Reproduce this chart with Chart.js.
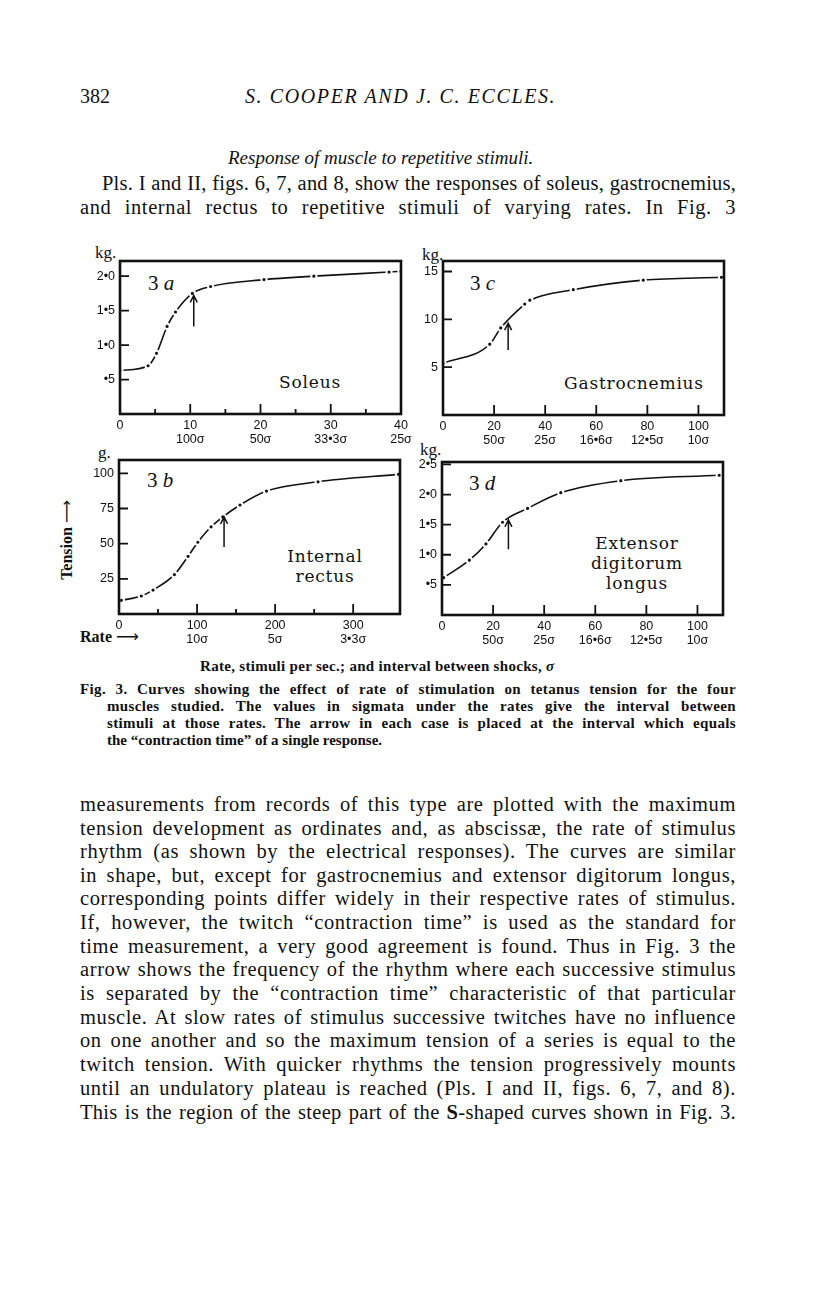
<!DOCTYPE html>
<html>
<head>
<meta charset="utf-8">
<script src="https://cdn.jsdelivr.net/npm/chart.js@4.4.0/dist/chart.umd.min.js"></script>
<style>
  html, body { margin: 0; padding: 0; background: #fff; }
  body { width: 816px; height: 1296px; position: relative; overflow: hidden; font-family: "Liberation Serif", serif; color: #111; }
  .t { position: absolute; white-space: nowrap; line-height: 22px; }
  .j { position: absolute; width: 656px; left: 80px; font-size: 20.5px; letter-spacing: 0.6px; line-height: 22px; text-align: justify; text-align-last: justify; }
  .cap { position: absolute; font-size: 15px; letter-spacing: 0.35px; font-weight: bold; line-height: 17px; text-align: justify; text-align-last: justify; }
  .nm { position: absolute; font-family: "DejaVu Serif", serif; font-size: 17px; letter-spacing: 0.8px; line-height: 20px; text-align: center; }
  .pl { position: absolute; font-size: 21px; line-height: 22px; }
  .u { position: absolute; font-size: 17px; line-height: 18px; }
  canvas { position: absolute; }
</style>
</head>
<body>

<div class="t" style="left:80px; top:85px; font-size:20px;">382</div>
<div class="t" style="left:245px; top:85px; font-size:20px; font-style:italic; letter-spacing:1.6px;">S. COOPER AND J. C. ECCLES.</div>
<div class="t" style="left:228px; top:147px; font-size:19px; font-style:italic;">Response of muscle to repetitive stimuli.</div>
<div class="j" style="left:102px; width:634px; top:172px; letter-spacing:0.2px;">Pls. I and II, figs. 6, 7, and 8, show the responses of soleus, gastrocnemius,</div>
<div class="j" style="top:196px;">and internal rectus to repetitive stimuli of varying rates. In Fig. 3</div>

<div class="u" style="left:95px; top:244px;">kg.</div>
<div class="u" style="left:422px; top:246px;">kg.</div>
<div class="u" style="left:98px; top:444px;">g.</div>
<div class="u" style="left:420px; top:441px;">kg.</div>

<div class="pl" style="left:148px; top:272px;">3 <i>a</i></div>
<div class="pl" style="left:470px; top:272px;">3 <i>c</i></div>
<div class="pl" style="left:147px; top:469px;">3 <i>b</i></div>
<div class="pl" style="left:469px; top:472px;">3 <i>d</i></div>

<div class="nm" style="left:260px; width:100px; top:372px;">Soleus</div>
<div class="nm" style="left:554px; width:160px; top:373px;">Gastrocnemius</div>
<div class="nm" style="left:270px; width:110px; top:546px;">Internal<br>rectus</div>
<div class="nm" style="left:577px; width:120px; top:533px;">Extensor<br>digitorum<br>longus</div>

<div class="t" style="left:67px; top:540px; font-size:16px; font-weight:bold; transform:translate(-50%,-50%) rotate(-90deg);">Tension <span style="font-family:'DejaVu Sans'; font-weight:normal;">⟶</span></div>
<div class="t" style="left:80px; top:626px; font-size:16px; font-weight:bold;">Rate <span style="font-family:'DejaVu Sans'; font-weight:normal;">⟶</span></div>

<div class="t" style="left:200px; top:655px; font-size:15px; letter-spacing:0.3px; font-weight:bold;">Rate, stimuli per sec.; and interval between shocks, <i>σ</i></div>
<div class="cap" style="left:80px; width:656px; top:681px;">Fig. 3. Curves showing the effect of rate of stimulation on tetanus tension for the four</div>
<div class="cap" style="left:107px; width:629px; top:698px;">muscles studied. The values in sigmata under the rates give the interval between</div>
<div class="cap" style="left:107px; width:629px; top:715px;">stimuli at those rates. The arrow in each case is placed at the interval which equals</div>
<div class="cap" style="left:107px; top:732px; letter-spacing:0; text-align:left; text-align-last:left;">the “contraction time” of a single response.</div>

<div class="j" style="top:793px;">measurements from records of this type are plotted with the maximum</div>
<div class="j" style="top:817px;">tension development as ordinates and, as abscissæ, the rate of stimulus</div>
<div class="j" style="top:840px;">rhythm (as shown by the electrical responses). The curves are similar</div>
<div class="j" style="top:864px;">in shape, but, except for gastrocnemius and extensor digitorum longus,</div>
<div class="j" style="top:887px;">corresponding points differ widely in their respective rates of stimulus.</div>
<div class="j" style="top:911px;">If, however, the twitch “contraction time” is used as the standard for</div>
<div class="j" style="top:935px;">time measurement, a very good agreement is found. Thus in Fig. 3 the</div>
<div class="j" style="top:958px;">arrow shows the frequency of the rhythm where each successive stimulus</div>
<div class="j" style="top:982px;">is separated by the “contraction time” characteristic of that particular</div>
<div class="j" style="top:1006px;">muscle. At slow rates of stimulus successive twitches have no influence</div>
<div class="j" style="top:1029px;">on one another and so the maximum tension of a series is equal to the</div>
<div class="j" style="top:1053px;">twitch tension. With quicker rhythms the tension progressively mounts</div>
<div class="j" style="top:1077px;">until an undulatory plateau is reached (Pls. I and II, figs. 6, 7, and 8).</div>
<div class="j" style="top:1101px; letter-spacing:0.3px;">This is the region of the steep part of the <b>S</b>-shaped curves shown in Fig. 3.</div>

<canvas id="c3a" width="345" height="210" style="left:75px; top:250px;"></canvas>
<canvas id="c3c" width="340" height="210" style="left:400px; top:250px;"></canvas>
<canvas id="c3b" width="345" height="210" style="left:75px; top:448px;"></canvas>
<canvas id="c3d" width="340" height="210" style="left:400px; top:450px;"></canvas>

<script>
// 3a soleus
const soleusRate = [0, 4, 5.2, 6.7, 7.9, 10.3, 12.9, 20.5, 27.6, 38.3, 40];
const soleusTension = [0.63, 0.70, 0.88, 1.27, 1.48, 1.75, 1.85, 1.95, 2.00, 2.06, 2.07];
const soleusArrow = [10.5, 1.27, 1.72];
const soleusXTicks = [0, 10, 20, 30, 40];
const soleusXLabels = ['0', ['10', '100σ'], ['20', '50σ'], ['30', '33•3σ'], ['40', '25σ']];
const soleusMinor = [5, 15, 25, 35];
const soleusYTicks = [0.5, 1, 1.5, 2];
const soleusYLabels = ['•5', '1•0', '1•5', '2•0'];

// 3c gastrocnemius
const gastroRate = [0, 18.3, 22.6, 32, 34, 51, 78.4, 109];
const gastroTension = [5.4, 7.4, 9.1, 11.6, 12.0, 13.1, 14.1, 14.4];
const gastroArrow = [25.5, 6.8, 9.6];

// 3b internal rectus
const rectusRate = [3, 28.6, 43.6, 71, 88.5, 101, 118, 133, 155, 189, 255, 358];
const rectusTension = [9.7, 12.8, 17, 28, 41, 51, 62, 69, 77.5, 87.4, 94, 99.3];
const rectusArrow = [134.6, 47.6, 69];
const rectusXTicks = [0, 100, 200, 300];
const rectusXLabels = ['0', ['100', '10σ'], ['200', '5σ'], ['300', '3•3σ']];
const rectusMinor = [50, 150, 250];
const rectusYTicks = [25, 50, 75, 100];
const rectusYLabels = ['25', '50', '75', '100'];

// 3d extensor digitorum longus
const extRate = [0.65, 10.7, 17.2, 23.7, 33.5, 46.5, 70, 108.5];
const extTension = [0.62, 0.91, 1.18, 1.54, 1.77, 2.03, 2.23, 2.32];
const extArrow = [26, 1.09, 1.58];
const extYTicks = [0.5, 1, 1.5, 2, 2.5];
const extYLabels = ['•5', '1•0', '1•5', '2•0', '2•5'];

// shared by 3c and 3d
const fastXTicks = [0, 20, 40, 60, 80, 100];
const fastXLabels = ['0', ['20', '50σ'], ['40', '25σ'], ['60', '16•6σ'], ['80', '12•5σ'], ['100', '10σ']];
const gastroYTicks = [5, 10, 15];
const gastroYLabels = ['5', '10', '15'];

Chart.defaults.font.family = '"Liberation Sans", sans-serif';
Chart.defaults.color = '#111';

const framePlugin = {
  id: 'frame',
  afterDatasetsDraw(chart, args, o) {
    const ctx = chart.ctx, a = chart.chartArea, x = chart.scales.x, y = chart.scales.y;
    ctx.save();
    ctx.strokeStyle = '#111';
    ctx.lineWidth = 1.8;
    ctx.beginPath();
    o.major.forEach(v => { const p = x.getPixelForValue(v); ctx.moveTo(p, a.bottom); ctx.lineTo(p, a.bottom - 10); });
    o.minor.forEach(v => { const p = x.getPixelForValue(v); ctx.moveTo(p, a.bottom); ctx.lineTo(p, a.bottom - 5); });
    o.yTicks.forEach(v => { const p = y.getPixelForValue(v); ctx.moveTo(a.left, p); ctx.lineTo(a.left + 9, p); });
    ctx.stroke();
    ctx.lineWidth = 2.6;
    ctx.strokeRect(a.left, a.top, a.right - a.left, a.bottom - a.top);
    // arrow at the contraction time
    const ax = x.getPixelForValue(o.arrow[0]);
    const y0 = y.getPixelForValue(o.arrow[1]), y1 = y.getPixelForValue(o.arrow[2]);
    ctx.lineWidth = 1.5;
    ctx.beginPath();
    ctx.moveTo(ax, y0); ctx.lineTo(ax, y1);
    ctx.moveTo(ax - 3.5, y1 + 7); ctx.lineTo(ax, y1); ctx.lineTo(ax + 3.5, y1 + 7);
    ctx.stroke();
    ctx.restore();
  }
};

function panel(id, p) {
  new Chart(document.getElementById(id), {
    type: 'line',
    data: {
      datasets: [{
        data: p.rate.map((r, i) => ({ x: r, y: p.tension[i] })),
        borderColor: '#111',
        borderWidth: 1.6,
        pointRadius: 2.6,
        pointBorderWidth: 2,
        pointBackgroundColor: '#111',
        pointBorderColor: '#fff',
        cubicInterpolationMode: 'monotone',
        fill: false
      }]
    },
    options: {
      responsive: false,
      animation: false,
      events: [],
      layout: { padding: { top: p.pad[0], right: p.pad[1], bottom: 0, left: 0 } },
      plugins: {
        legend: { display: false },
        tooltip: { enabled: false },
        frame: { major: p.major, minor: p.minor, yTicks: p.yTicks, arrow: p.arrow }
      },
      scales: {
        x: {
          type: 'linear', min: 0, max: p.xMax,
          grid: { display: false, drawTicks: false }, border: { display: false },
          afterBuildTicks: s => { s.ticks = p.xTicks.map(v => ({ value: v })); },
          afterFit: s => { s.height = p.xH; s.paddingLeft = 0; s.paddingRight = 0; },
          ticks: { autoSkip: false, maxRotation: 0, padding: 4, font: { size: 12.5, lineHeight: 1.15 }, callback: (v, i) => p.xLabels[i] }
        },
        y: {
          type: 'linear', min: 0, max: p.yMax,
          grid: { display: false, drawTicks: false }, border: { display: false },
          afterBuildTicks: s => { s.ticks = p.yTicks.map(v => ({ value: v })); },
          afterFit: s => { s.width = p.yW; s.paddingTop = 0; s.paddingBottom = 0; },
          ticks: { padding: 5, font: { size: 12.5 }, callback: (v, i) => p.yLabels[i] }
        }
      }
    },
    plugins: [framePlugin]
  });
}

panel('c3a', {
  rate: soleusRate, tension: soleusTension, arrow: soleusArrow,
  xMax: 40, yMax: 2.22, xTicks: soleusXTicks, xLabels: soleusXLabels,
  major: [10, 20, 30], minor: soleusMinor, yTicks: soleusYTicks, yLabels: soleusYLabels,
  pad: [11, 19], xH: 46, yW: 45
});
panel('c3c', {
  rate: gastroRate, tension: gastroTension, arrow: gastroArrow,
  xMax: 110, yMax: 16.1, xTicks: fastXTicks, xLabels: fastXLabels,
  major: [20, 40, 60, 80, 100], minor: [], yTicks: gastroYTicks, yLabels: gastroYLabels,
  pad: [11, 16], xH: 45, yW: 43
});
panel('c3b', {
  rate: rectusRate, tension: rectusTension, arrow: rectusArrow,
  xMax: 360, yMax: 109.5, xTicks: rectusXTicks, xLabels: rectusXLabels,
  major: [100, 200, 300], minor: rectusMinor, yTicks: rectusYTicks, yLabels: rectusYLabels,
  pad: [12, 20], xH: 44, yW: 44
});
panel('c3d', {
  rate: extRate, tension: extTension, arrow: extArrow,
  xMax: 110, yMax: 2.54, xTicks: fastXTicks, xLabels: fastXLabels,
  major: [20, 40, 60, 80, 100], minor: [], yTicks: extYTicks, yLabels: extYLabels,
  pad: [12, 17], xH: 45, yW: 42
});
</script>
</body>
</html>
